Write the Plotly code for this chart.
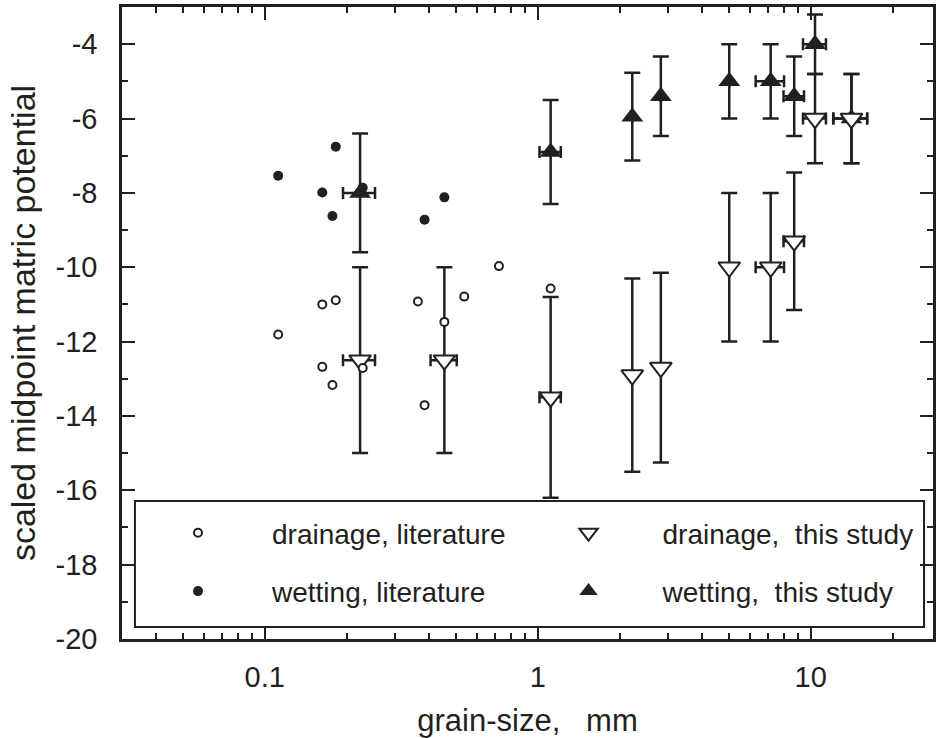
import math
import plotly.graph_objects as go

# ---- data ----
# literature values (no error bars)
lit_drain_x = [0.112, 0.1625, 0.182, 0.1625, 0.177, 0.2285, 0.364, 0.385, 0.455, 0.538, 0.721, 1.115]
lit_drain_y = [-11.81, -11.0, -10.89, -12.68, -13.17, -12.71, -10.92, -13.71, -11.47, -10.79, -9.97, -10.57]

lit_wet_x = [0.112, 0.1625, 0.182, 0.177, 0.2285, 0.385, 0.455]
lit_wet_y = [-7.54, -7.99, -6.76, -8.62, -7.86, -8.72, -8.12]

# this study
study_drain_x = [0.2235, 0.455, 1.115, 2.22, 2.825, 5.03, 7.135, 8.7, 10.37, 14.1]
study_drain_y = [-12.5, -12.5, -13.5, -12.9, -12.7, -10.0, -10.0, -9.3, -6.0, -6.0]
study_drain_ey = [2.5, 2.5, 2.7, 2.6, 2.55, 2.0, 2.0, 1.85, 1.2, 1.2]
study_drain_ex = [0.03, 0.05, 0.1, 0, 0, 0, 0.85, 0.75, 1.0, 2.0]

study_wet_x = [0.2235, 1.115, 2.22, 2.825, 5.03, 7.135, 8.7, 10.37, 14.1]
study_wet_y = [-8.0, -6.9, -5.95, -5.4, -5.0, -5.0, -5.4, -4.0, -6.0]
study_wet_ey = [1.6, 1.4, 1.18, 1.07, 1.0, 1.0, 1.07, 0.8, 1.2]
study_wet_ex = [0.03, 0.1, 0, 0, 0, 0.85, 0.75, 1.0, 2.0]

x_tickvals = [0.1, 1, 10]
x_ticktext = ["0.1", "1", "10"]
x_minor = [0.03, 0.04, 0.05, 0.06, 0.07, 0.08, 0.09,
           0.2, 0.3, 0.4, 0.5, 0.6, 0.7, 0.8, 0.9,
           2, 3, 4, 5, 6, 7, 8, 9, 20]
y_tickvals = [-20, -18, -16, -14, -12, -10, -8, -6, -4]
y_ticktext = ["-20", "-18", "-16", "-14", "-12", "-10", "-8", "-6", "-4"]

INK = "#231f20"
FONT = "Liberation Sans, Arial, Helvetica, sans-serif"

fig = go.Figure()

err_y_style = dict(type="data", color=INK, thickness=2.5, width=8)
err_x_style = dict(type="data", color=INK, thickness=2.5, width=6)

fig.add_trace(go.Scatter(
    x=study_wet_x, y=study_wet_y, mode="markers", name="wetting,\u00a0 this study",
    legend="legend2", legendgroup="ws", legendrank=2,
    marker=dict(symbol="triangle-up", size=19, color=INK, line=dict(width=0)),
    error_y=dict(array=study_wet_ey, **err_y_style),
    error_x=dict(array=study_wet_ex, **err_x_style),
))
fig.add_trace(go.Scatter(
    x=study_drain_x, y=study_drain_y, mode="markers", name="drainage,\u00a0 this study",
    legend="legend2", legendgroup="ds", legendrank=1,
    marker=dict(symbol="triangle-down", size=19, color="white", line=dict(width=2, color=INK)),
    error_y=dict(array=study_drain_ey, **err_y_style),
    error_x=dict(array=study_drain_ex, **err_x_style),
))
fig.add_trace(go.Scatter(
    x=lit_drain_x, y=lit_drain_y, mode="markers", name="drainage, literature",
    legend="legend", legendgroup="dl", legendrank=1,
    marker=dict(symbol="circle", size=8, color="white", line=dict(width=2, color=INK)),
))
fig.add_trace(go.Scatter(
    x=lit_wet_x, y=lit_wet_y, mode="markers", name="wetting, literature",
    legend="legend", legendgroup="wl", legendrank=2,
    marker=dict(symbol="circle", size=10, color=INK, line=dict(width=0)),
))

W, H = 936, 738
ML, MR, MT, MB = 122, 0, 7, 99
pw = W - ML - MR
ph = H - MT - MB
decade_px = 274.0
x0 = math.log10(0.03)
x1 = x0 + pw / decade_px


def px2paper_x(px):
    return (px - ML) / pw


def px2paper_y(py):
    return (H - MB - py) / ph


axis_common = dict(
    showline=True, linewidth=2.5, linecolor=INK, mirror="ticks",
    ticks="inside", ticklen=13, tickwidth=2, tickcolor=INK,
    showgrid=False, zeroline=False,
    tickfont=dict(family=FONT, size=29, color=INK),
)

fig.update_xaxes(
    type="log", range=[x0, x1],
    tickmode="array", tickvals=x_tickvals, ticktext=x_ticktext,
    minor=dict(ticks="inside", ticklen=6, tickwidth=2, tickcolor=INK,
               tickmode="array", tickvals=x_minor, showgrid=False),
    ticklabelstandoff=10,
    title=dict(text="grain-size,\u00a0\u00a0\u00a0mm", font=dict(family=FONT, size=31, color=INK), standoff=19),
    **axis_common,
)
fig.update_yaxes(
    range=[-20, -3],
    tickmode="array", tickvals=y_tickvals, ticktext=y_ticktext,
    minor=dict(ticks="inside", ticklen=6, tickwidth=2, tickcolor=INK, dtick=1, tick0=-20, showgrid=False),
    ticklabelstandoff=16,
    title=dict(text="scaled midpoint matric potential", font=dict(family=FONT, size=34, color=INK), standoff=10),
    **axis_common,
)

legend_common = dict(
    bgcolor="rgba(0,0,0,0)", borderwidth=0,
    font=dict(family=FONT, size=28, color=INK),
    itemwidth=138, tracegroupgap=19, xanchor="left", yanchor="top",
    traceorder="grouped",
    itemclick=False, itemdoubleclick=False,
)

fig.update_layout(
    width=W, height=H,
    margin=dict(l=ML, r=MR, t=MT, b=MB, pad=0),
    plot_bgcolor="white", paper_bgcolor="white",
    font=dict(family=FONT, size=29, color=INK),
    showlegend=True,
    hovermode=False,
    legend=dict(x=px2paper_x(124), y=px2paper_y(508), **legend_common),
    legend2=dict(x=px2paper_x(516), y=px2paper_y(508), **legend_common),
    shapes=[dict(type="rect", xref="paper", yref="paper",
                 x0=px2paper_x(135), x1=px2paper_x(927),
                 y0=px2paper_y(627), y1=px2paper_y(501),
                 line=dict(color=INK, width=2), fillcolor="rgba(0,0,0,0)", layer="above")],
)

fig.write_html("out.html", config={"displayModeBar": False},
               post_script="document.body.style.margin='0';")
